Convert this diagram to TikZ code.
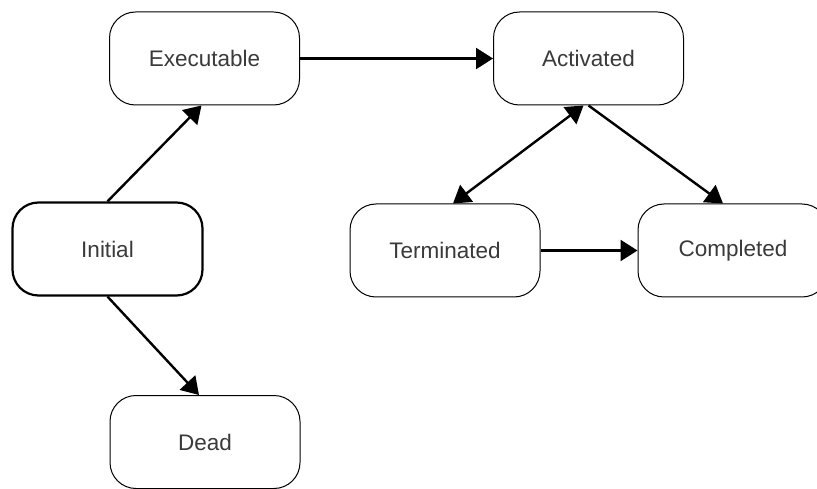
\documentclass[tikz,border=0pt]{standalone}
\usepackage{fontspec}
\setmainfont{Liberation Sans}
\usetikzlibrary{arrows.meta}
\definecolor{labelgray}{HTML}{3A3A3A}
\begin{document}
\begin{tikzpicture}[x=1pt,y=-1pt,
  state/.style={draw=black, line width=1pt, rounded corners=26pt,
    minimum width=190pt, minimum height=93pt, inner sep=0pt,
    text=labelgray, font=\fontsize{22.5}{27}\selectfont},
  startstate/.style={state, line width=2.2pt},
  head/.style={Triangle[length=17pt,width=21pt]},
  trans/.style={line width=2.4pt, -{Triangle[length=17pt,width=21pt]}},
  bitrans/.style={line width=2.4pt, {Triangle[length=17pt,width=21pt]}-{Triangle[length=17pt,width=21pt]}}]
  \useasboundingbox (0,0) rectangle (817,489);
  \clip (0,0) rectangle (817,489);
  \fill[white] (0,0) rectangle (817,489);

  % states
  \node[state]      (exe)  at (204.5,58.5) {Executable};
  \node[state]      (act)  at (588.5,58.5) {Activated};
  \node[startstate] (ini)  at (107.5,249)  {Initial};
  \node[state]      (term) at (445,250.5)  {Terminated};
  \node[state]      (comp) at (733,250.5)  {Completed};
  \node[state]      (dead) at (205,442)    {Dead};

  % transitions
  \draw[trans] (exe.east) -- (act.west);
  \draw[trans] (ini.north) -- ([xshift=-3pt]exe.south);
  \draw[trans] (ini.south) -- ([xshift=-6pt]dead.north);
  \draw[bitrans] ([xshift=8pt]term.north) -- ([xshift=-5pt]act.south);
  \draw[trans] (act.south) -- ([xshift=-10pt]comp.north);
  \draw[trans] (term.east) -- (comp.west);
\end{tikzpicture}
\end{document}
